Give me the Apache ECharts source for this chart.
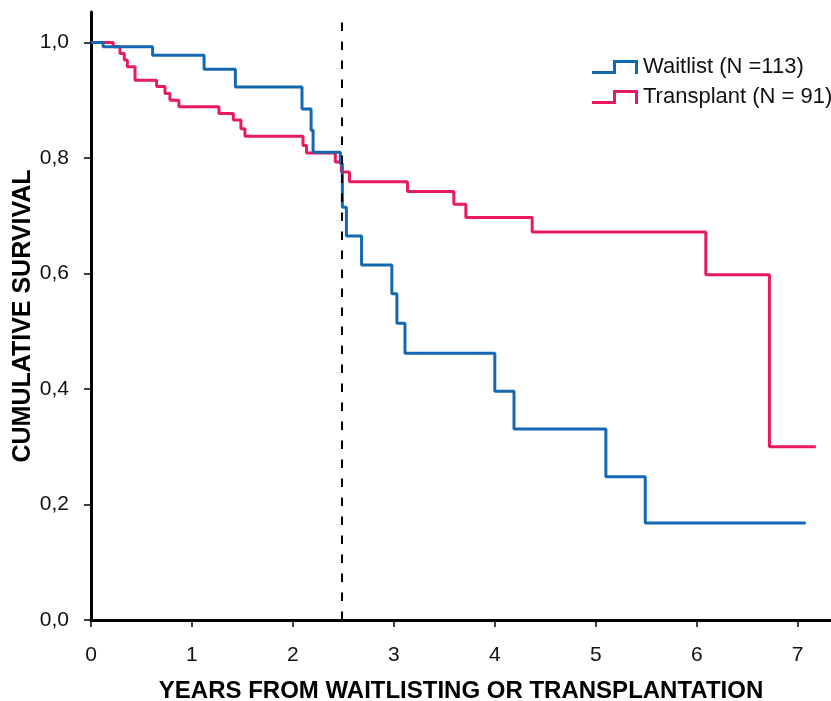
<!DOCTYPE html>
<html>
<head>
<meta charset="utf-8">
<script src="https://cdn.jsdelivr.net/npm/echarts@6/dist/echarts.min.js"></script>
<style>html,body{margin:0;padding:0;background:#fff}#c{width:831px;height:701px}</style>
</head>
<body>
<div id="c"></div>
<script>
const xTicks = [0, 1, 2, 3, 4, 5, 6, 7];
const yTicks = [0, 0.2, 0.4, 0.6, 0.8, 1.0];
const seriesNames = ['Waitlist (N =113)', 'Transplant (N = 91)'];
const waitlistTimes = [0, 0.12, 0.61, 1.12, 1.43, 2.09, 2.18, 2.2, 2.47, 2.49, 2.53, 2.68, 2.98, 3.03, 3.11, 4.0, 4.19, 5.1, 5.49, 7.08];
const waitlistSurv  = [1.0, 0.993, 0.978, 0.954, 0.923, 0.885, 0.848, 0.81, 0.79, 0.715, 0.665, 0.615, 0.565, 0.514, 0.462, 0.396, 0.331, 0.248, 0.168, 0.168];
const transplantTimes = [0, 0.22, 0.287, 0.33, 0.36, 0.436, 0.65, 0.733, 0.782, 0.871, 1.267, 1.41, 1.485, 1.525, 2.10, 2.135, 2.42, 2.48, 2.56, 3.135, 3.594, 3.713, 4.37, 6.09, 6.72, 7.18];
const transplantSurv  = [1.0, 0.993, 0.981, 0.970, 0.958, 0.935, 0.924, 0.912, 0.900, 0.889, 0.877, 0.866, 0.851, 0.838, 0.822, 0.809, 0.793, 0.776, 0.759, 0.742, 0.720, 0.697, 0.672, 0.598, 0.300, 0.300];
const cutoffYear = 2.48;

const zip = (a, b) => a.map((v, i) => [v, b[i]]);
const stepIcon = 'path://M0,11 L21,11 L21,0 L46,0 L46,14 L43,14 L43,3 L24,3 L24,14 L0,14 Z';
const font = '"Liberation Sans", Arial, Helvetica, sans-serif';

const chart = echarts.init(document.getElementById('c'), null, {renderer: 'canvas'});
chart.setOption({
  animation: false,
  backgroundColor: '#fff',
  grid: {left: 91, top: 12, right: 0, bottom: 81, containLabel: false, outerBoundsMode: 'none'},
  legend: {
    left: 592, top: 56, orient: 'vertical', itemGap: 8,
    itemWidth: 46, itemHeight: 14, padding: 0,
    textStyle: {fontFamily: font, fontSize: 22, color: '#111'},
    data: [
      {name: seriesNames[0], icon: stepIcon, itemStyle: {color: '#1467b1'}},
      {name: seriesNames[1], icon: stepIcon, itemStyle: {color: '#e91a5d'}}
    ]
  },
  xAxis: {
    type: 'value', min: 0, max: 7.33,
    name: 'YEARS FROM WAITLISTING OR TRANSPLANTATION',
    nameLocation: 'middle', nameGap: 59, nameMoveOverlap: false,
    nameTextStyle: {fontFamily: font, fontSize: 24, fontWeight: 'bold', color: '#000'},
    splitLine: {show: false},
    axisLine: {show: true, onZero: false, lineStyle: {color: '#000', width: 3}},
    axisTick: {show: true, length: 7, lineStyle: {color: '#000', width: 1.5}, customValues: xTicks},
    axisLabel: {fontFamily: font, fontSize: 21, color: '#111', margin: 25, customValues: xTicks, formatter: v => String(v)}
  },
  yAxis: {
    type: 'value', min: 0, max: 1.053,
    name: 'CUMULATIVE SURVIVAL',
    nameLocation: 'middle', nameGap: 55, nameRotate: 90, nameMoveOverlap: false,
    nameTextStyle: {fontFamily: font, fontSize: 25, fontWeight: 'bold', color: '#000'},
    splitLine: {show: false},
    axisLine: {show: true, onZero: false, lineStyle: {color: '#000', width: 3}},
    axisTick: {show: true, length: 7, lineStyle: {color: '#000', width: 1.5}, customValues: yTicks},
    axisLabel: {fontFamily: font, fontSize: 21, color: '#111', margin: 22, customValues: yTicks,
      formatter: v => v.toFixed(1).replace('.', ',')}
  },
  series: [
    {
      name: seriesNames[0], type: 'line', step: 'end', symbol: 'none',
      data: zip(waitlistTimes, waitlistSurv),
      lineStyle: {color: '#1467b1', width: 3}, itemStyle: {color: '#1467b1'},
      z: 3,
      markLine: {
        silent: true, symbol: 'none', label: {show: false},
        lineStyle: {color: '#000', type: [8.5, 10.5], width: 2},
        data: [{xAxis: cutoffYear}]
      }
    },
    {
      name: seriesNames[1], type: 'line', step: 'end', symbol: 'none',
      data: zip(transplantTimes, transplantSurv),
      lineStyle: {color: '#e91a5d', width: 3}, itemStyle: {color: '#e91a5d'},
      z: 2
    }
  ]
});
</script>
</body>
</html>
